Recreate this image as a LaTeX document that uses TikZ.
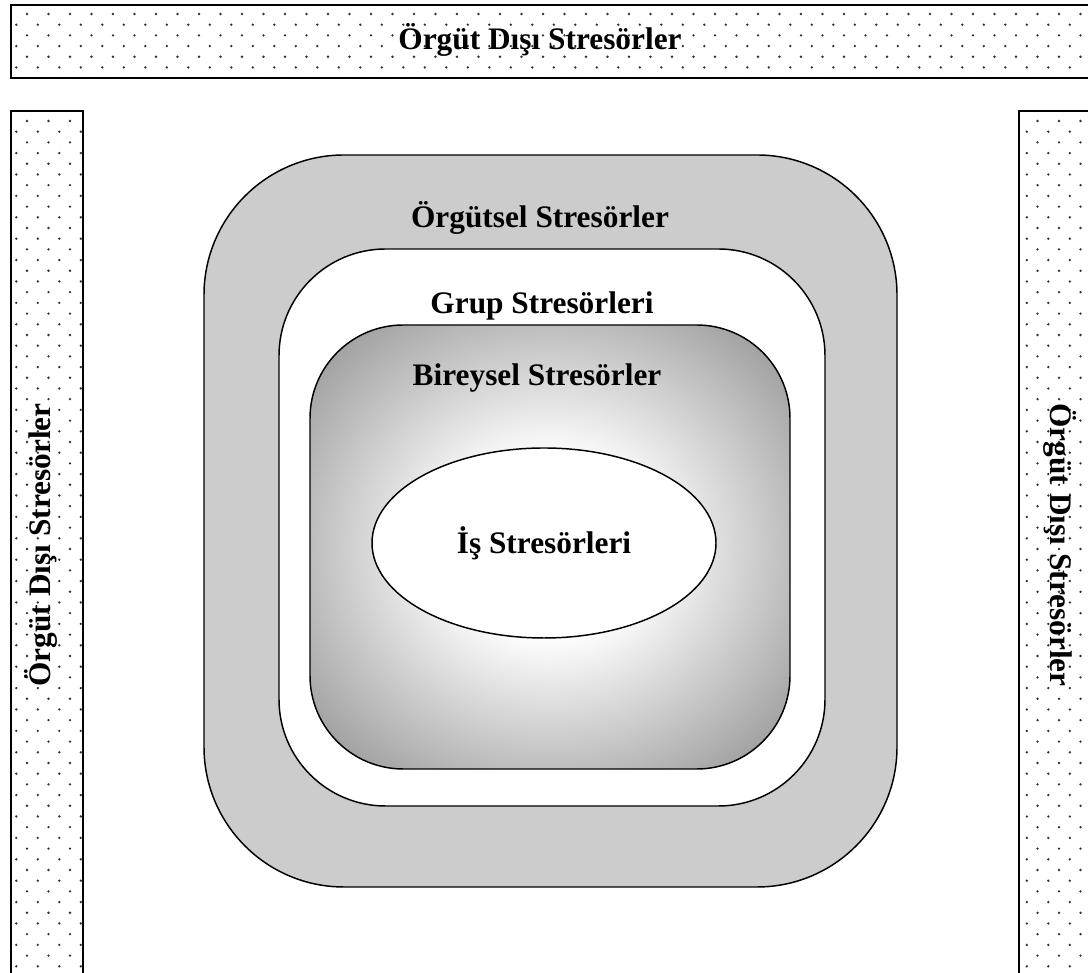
\documentclass[tikz,border=0pt]{standalone}
\usepackage{fontspec}
\setmainfont{Liberation Serif}
\usepackage{xcolor}
\usepackage{tikz}
\usetikzlibrary{shapes.geometric}
\definecolor{zonegray}{HTML}{CCCCCC}
\definecolor{dotgray}{HTML}{303030}
\definecolor{edgegray}{HTML}{7C7C7C}
\pgfdeclareradialshading{bireyselshade}{\pgfpoint{0bp}{0bp}}{color(0bp)=(white); color(10bp)=(white); color(40bp)=(edgegray); color(50bp)=(edgegray)}

\begin{document}
\begin{tikzpicture}[
  x=0.75pt, y=0.75pt,
  lbl/.style={font=\bfseries\fontsize{23.5}{28}\selectfont,inner sep=0pt},
  bar/.style={draw,line width=1.4pt},
  zone/.style={draw,line width=1.1pt}
]
\useasboundingbox (0,0) rectangle (1088,973);
\fill[white] (0,0) rectangle (1088,973);
\clip (0,0) rectangle (1088,973);

% dotted bars
\begin{scope}
  \clip (11,968) rectangle (1100,895)
        (11,862) rectangle (83,-10)
        (1019,862) rectangle (1100,-10);
  \foreach \i in {0,...,50}
    \foreach \j in {0,...,45} {
      \fill[dotgray] (27+21.5*\i, 959-21.4*\j) circle (1.3);
      \fill[dotgray] (16.3+21.5*\i, 948.3-21.4*\j) circle (1.3);
    }
\end{scope}
\draw[bar] (11,968) rectangle (1100,895);
\draw[bar] (11,862) rectangle (83,-10);
\draw[bar] (1019,862) rectangle (1100,-10);

% nested stressor zones
\draw[zone,fill=zonegray,rounded corners=105] (204,818) rectangle (897,86);
\draw[zone,fill=white,rounded corners=80] (279,724) rectangle (825,167);
\shade[zone,shading=bireyselshade,rounded corners=70] (310,648) rectangle (790,204);
\node[ellipse,zone,fill=white,minimum width=258pt,minimum height=142.5pt,
      font=\bfseries\fontsize{23.5}{28}\selectfont] (is) at (544,430) {İş Stresörleri};

\node[lbl] (disust) at (540,933) {Örgüt Dışı Stresörler};
\node[lbl,rotate=90] (dissol) at (41,428) {Örgüt Dışı Stresörler};
\node[lbl,rotate=-90] (dissag) at (1060,428) {Örgüt Dışı Stresörler};
\node[lbl] (orgutsel) at (540,755) {Örgütsel Stresörler};
\node[lbl] (grup) at (542,667) {Grup Stresörleri};
\node[lbl] (bireysel) at (537,595) {Bireysel Stresörler};
\end{tikzpicture}
\end{document}
